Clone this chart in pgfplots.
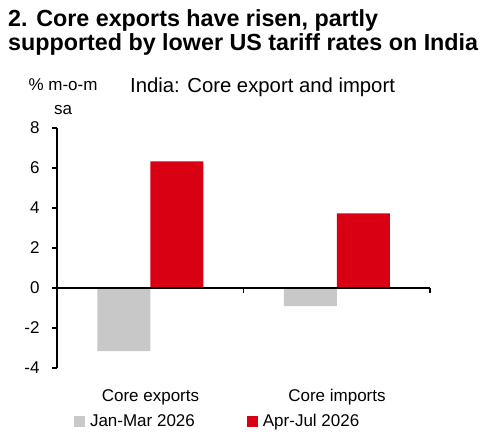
\documentclass[border=0pt]{standalone}
\usepackage{pgfplots}
\pgfplotsset{compat=1.18}
\usepackage{fontspec}
\setmainfont{Liberation Sans}
\definecolor{hgrey}{RGB}{200,200,200}
\definecolor{hred}{RGB}{218,0,20}
\begin{document}
\begin{tikzpicture}[x=1pt,y=1pt]
\path[use as bounding box] (0,0) rectangle (482,-437);
% titles
\node[anchor=base west,inner sep=0pt,font=\fontsize{23.3}{26}\selectfont\bfseries] at (8,-26) {2. Core exports have risen, partly};
\node[anchor=base west,inner sep=0pt,font=\fontsize{23.3}{26}\selectfont\bfseries] at (8,-50) {supported by lower US tariff rates on India};
\node[anchor=base west,inner sep=0pt,font=\fontsize{20.3}{24}\selectfont] at (130,-92) {India: Core export and import};
\node[anchor=base,inner sep=0pt,font=\fontsize{17}{20}\selectfont] at (63,-90) {\% m-o-m};
\node[anchor=base,inner sep=0pt,font=\fontsize{17}{20}\selectfont] at (63,-114) {sa};
\begin{axis}[
  at={(57pt,-368pt)}, anchor=south west,
  scale only axis, width=373pt, height=240pt,
  xmin=0, xmax=2, ymin=-4, ymax=8,
  axis x line=none,
  axis y line=left,
  y axis line style={-, line width=1.8pt, black},
  ytick={-4,-2,0,2,4,6,8},
  yticklabels={-4,-2,0,2,4,6,8},
  tick align=outside,
  major tick length=5pt,
  y tick style={line width=1.8pt, black},
  yticklabel style={font=\fontsize{17}{20}\selectfont, xshift=-9pt},
  ybar=0pt, bar width=53pt,
  clip=false,
  legend columns=2,
  legend style={draw=none, fill=none, inner sep=0pt, outer sep=0pt,
    at={(rel axis cs:0,0)}, anchor=west, xshift=17pt, yshift=-53.5pt,
    font=\fontsize{17}{20}\selectfont,
    nodes={inner sep=0pt},
    /tikz/every odd column/.append style={column sep=5pt},
    /tikz/every even column/.append style={column sep=52pt}},
  legend image code/.code={\fill[#1] (0pt,-5.5pt) rectangle (11pt,5.5pt);},
]
\addplot[fill=hgrey, draw=none] coordinates {(0.5,-3.15) (1.5,-0.9)};
\addplot[fill=hred, draw=none] coordinates {(0.5,6.33) (1.5,3.73)};
\legend{Jan-Mar 2026, Apr-Jul 2026}
\draw[line width=1.8pt, black] (axis cs:0,0) -- (axis cs:2,0);
\draw[line width=1.8pt, black] (axis cs:1,0) -- ++(0pt,-5pt);
\draw[line width=1.8pt, black] (axis cs:2,0) -- ++(0pt,-5pt);
\end{axis}
\node[anchor=base,inner sep=0pt,font=\fontsize{17}{20}\selectfont] at (150.5,-401) {Core exports};
\node[anchor=base,inner sep=0pt,font=\fontsize{17}{20}\selectfont] at (337,-401) {Core imports};
\end{tikzpicture}
\end{document}
